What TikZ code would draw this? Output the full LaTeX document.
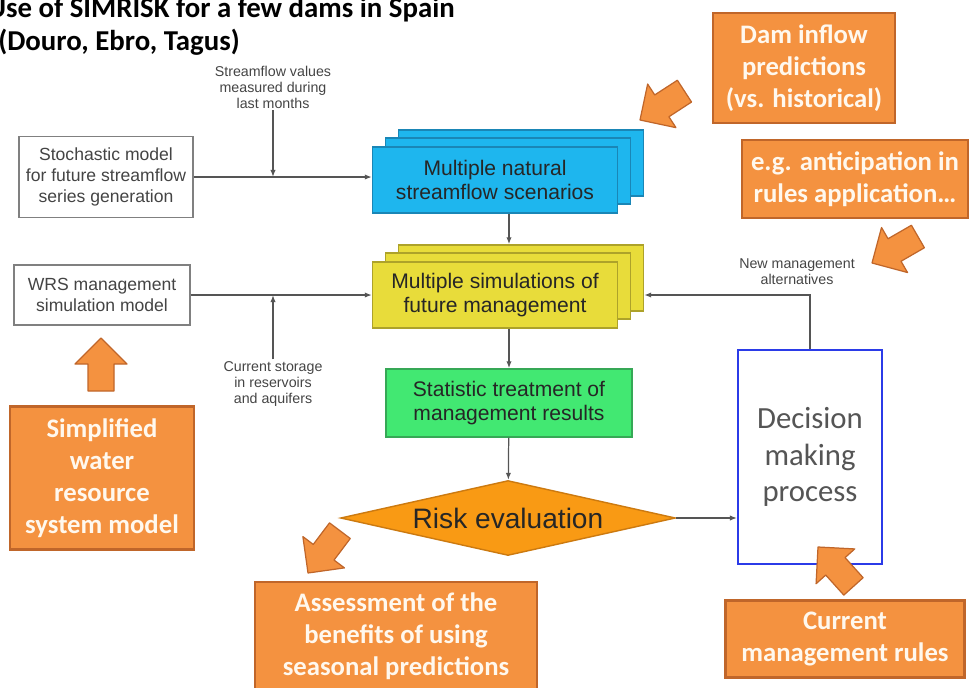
\documentclass[tikz,border=0pt]{standalone}
\usepackage{fontspec}
\setmainfont{Liberation Sans}
\newfontfamily\calibri{Carlito}
\usepackage{tikz}
\usetikzlibrary{shapes.geometric, arrows.meta}
\definecolor{boxorange}{HTML}{F49240}
\definecolor{orangeline}{HTML}{C0662A}
\definecolor{orangetext}{HTML}{FFF8EE}
\definecolor{riskorange}{HTML}{F99A14}
\definecolor{riskline}{HTML}{CC7A10}
\definecolor{natblue}{HTML}{1EB6EE}
\definecolor{natline}{HTML}{1A86B6}
\definecolor{simyellow}{HTML}{E8DC3A}
\definecolor{simline}{HTML}{ADA22A}
\definecolor{statgreen}{HTML}{42E872}
\definecolor{statline}{HTML}{36A856}
\definecolor{decblue}{HTML}{2B3BE8}
\definecolor{linegray}{HTML}{555555}
\definecolor{textgray}{HTML}{444444}
\tikzset{
  titletext/.style={ font=\calibri\bfseries\fontsize{16.4}{19}\selectfont, text=black, inner sep=0pt }
}
\tikzset{
  smalltext/.style={ align=center, text=textgray, font=\fontsize{8.1}{9.1}\selectfont, inner sep=1pt }
}
\tikzset{
  greybox/.style={ draw=gray, line width=0.8pt, fill=white, align=center, text=textgray, font=\fontsize{10}{11.9}\selectfont, inner sep=0pt }
}
\tikzset{
  stackbox/.style={ draw, line width=0.8pt, minimum width=4.9cm, minimum height=1.32cm, align=center, text=black!85, font=\fontsize{12}{13.4}\selectfont, inner sep=0pt }
}
\tikzset{
  bluebox/.style={ stackbox, fill=natblue, draw=natline }
}
\tikzset{
  yellowbox/.style={ stackbox, fill=simyellow, draw=simline }
}
\tikzset{
  obox/.style={ draw=orangeline, fill=boxorange, line width=1.2pt, text=orangetext, align=center, font=\calibri\bfseries\fontsize{15.2}{18.1}\selectfont, inner sep=0pt }
}
\tikzset{
  oarrow/.style={ draw=orangeline, fill=boxorange, line width=0.7pt, line join=round }
}
\tikzset{
  conn/.style={ draw=linegray, line width=0.7pt, -{Latex[length=4pt, width=3pt]} }
}
\newcommand{\orangearrow}[3]{%
  \begin{scope}[shift={(#1,#2)}, rotate=#3]
    \draw[oarrow] (0,0) -- (-26,26) -- (-26,13) -- (-53,13) -- (-53,-13) -- (-26,-13) -- (-26,-26) -- cycle;
  \end{scope}}

\begin{document}
\begin{tikzpicture}[x=0.02cm, y=-0.02cm]
  \useasboundingbox (0,0) rectangle (970,687);
  \node[titletext, anchor=base west] (title1) at (-13,17) {Use of SIMRISK for a few dams in Spain};
  \node[titletext, anchor=base west] (title2) at (-2,50) {(Douro, Ebro, Tagus)};
  % models on the left
  \node[greybox, minimum width=3.48cm, minimum height=1.62cm] (stoch) at (106,177) {Stochastic model\\for future streamflow\\series generation};
  \node[greybox, minimum width=3.52cm, minimum height=1.2cm] (wrs) at (102,295) {WRS management\\simulation model};
  % stacked boxes
  \foreach \n/\dx/\dy in {natC/26/-17, natB/13/-9}
    \node[bluebox] (\n) at (495+\dx, 180+\dy) {};
  \node[bluebox] (nat) at (495,180) {Multiple natural\\streamflow scenarios};
  \foreach \n/\dx/\dy in {simC/26/-17, simB/13/-9}
    \node[yellowbox] (\n) at (495+\dx, 295+\dy) {};
  \node[yellowbox] (sim) at (495,295) {Multiple simulations of\\future management};
  \node[stackbox, fill=statgreen, draw=statline, minimum width=4.92cm, minimum height=1.36cm] (stat) at (509,403) {Statistic treatment of\\management results};
  \node[diamond, aspect=4.5, minimum width=6.7cm, minimum height=1.5cm, inner sep=0pt, fill=riskorange, draw=riskline, line width=0.8pt, text=black!85, font=\fontsize{16}{18}\selectfont] (risk) at (508,518) {Risk evaluation};
  \node[draw=decblue, line width=1.2pt, fill=white, minimum width=2.88cm, minimum height=4.28cm, align=center, text=linegray, font=\calibri\fontsize{17.5}{20.6}\selectfont] (dec) at (810,457) {Decision\\making\\process};
  % small labels
  \node[smalltext] (sfv) at (273,87) {Streamflow values\\measured during\\last months};
  \node[smalltext] (cst) at (273,384) {Current storage\\in reservoirs\\and aquifers};
  \node[smalltext] (nma) at (797,272) {New management\\alternatives};
  % connectors
  \draw[conn] (sfv) -- (sfv |- stoch);
  \draw[conn] (stoch) -- (stoch -| nat.west);
  \draw[conn] (wrs) -- (wrs -| sim.west);
  \draw[conn] (cst) -- (cst |- wrs);
  \draw[conn] (nat.south -| stat.north) -- (simC.north -| stat.north);
  \draw[conn] (sim.south -| stat.north) -- (stat);
  \draw[conn] (stat) -- (risk);
  \draw[conn] (risk) -- (risk -| dec.west);
  \draw[conn] (dec.north) |- (sim -| simC.east);
  % orange notes
  \node[obox, minimum width=3.64cm, minimum height=2.2cm] (dam) at (804,68) {Dam inflow\\predictions\\(vs. historical)};
  \node[obox, minimum width=4.52cm, minimum height=1.56cm] (antic) at (855,179) {e.g. anticipation in\\rules application\dots};
  \node[obox, minimum width=3.68cm, minimum height=2.86cm] (simp) at (102,478) {Simplified\\water\\resource\\system model};
  \node[obox, minimum width=5.64cm, minimum height=2.16cm] (assess) at (396,636) {Assessment of the\\benefits of using\\seasonal predictions};
  \node[obox, minimum width=4.78cm, minimum height=1.54cm] (rules) at (845,639) {Current\\management rules};
  \orangearrow{640}{120}{213}
  \orangearrow{872}{263}{210}
  \orangearrow{101}{338}{90}
  \orangearrow{308}{573}{233}
  \orangearrow{818}{547}{132}
\end{tikzpicture}
\end{document}
